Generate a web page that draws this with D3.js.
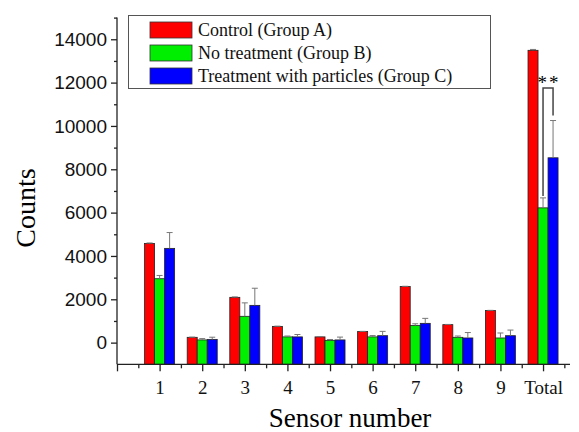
<!DOCTYPE html>
<html>
<head>
<meta charset="utf-8">
<script src="https://cdn.jsdelivr.net/npm/d3@7/dist/d3.min.js"></script>
<style>
  body { margin: 0; background: #fff; }
  svg { display: block; }
</style>
</head>
<body>
<div id="chart"></div>
<script>
// chart values
var categories = ["1", "2", "3", "4", "5", "6", "7", "8", "9", "Total"];
var groupNames = ["Control (Group A)", "No treatment (Group B)", "Treatment with particles (Group C)"];
var controlA   = [4580, 245, 2090, 750, 265, 510, 2590, 830, 1480, 13490];
var noTreatB   = [2950, 125, 1215, 265, 105, 265, 790, 245, 215, 6220];
var particlesC = [4350, 150, 1720, 265, 125, 320, 890, 215, 320, 8530];
var errA = [20, 10, 20, 10, 10, 10, 10, 10, 10, 40];
var errB = [150, 60, 620, 40, 40, 60, 80, 60, 230, 460];
var errC = [730, 100, 790, 110, 130, 200, 230, 250, 260, 1720];
var yMajor = [0, 2000, 4000, 6000, 8000, 10000, 12000, 14000];
var yMinor = [1000, 3000, 5000, 7000, 9000, 11000, 13000, 15000];

var colors = ["#ff0000", "#00ee00", "#0000ff"];
var series = [controlA, noTreatB, particlesC];
var errs = [errA, errB, errC];

var svg = d3.select('#chart').append('svg')
    .attr('width', 579)
    .attr('height', 432);

// x: category index (1..10), 0 at the y axis
var x = d3.scaleLinear().domain([0, 10.6]).range([117, 568.6]);
var y = d3.scaleLinear().domain([-1000, 15000]).range([364.3, 17.6]);
var barW = x(0.235) - x(0);

// bars
series.forEach(function(vals, s) {
    var g = svg.append('g');
    g.selectAll('rect').data(vals).enter().append('rect')
        .attr('x', function(d, i) { return x(i + 1) + (s - 1.5) * barW; })
        .attr('y', function(d) { return y(d); })
        .attr('width', barW)
        .attr('height', function(d) { return y(-1000) - y(d); })
        .attr('fill', colors[s])
        .attr('stroke', '#222')
        .attr('stroke-width', 0.8);

    // upper error bars
    var e = svg.append('g').attr('stroke', '#777').attr('stroke-width', 1);
    vals.forEach(function(d, i) {
        var cx = x(i + 1) + (s - 1) * barW;
        var top = y(d + errs[s][i]);
        e.append('line').attr('x1', cx).attr('x2', cx).attr('y1', y(d)).attr('y2', top);
        e.append('line').attr('x1', cx - 3).attr('x2', cx + 3).attr('y1', top).attr('y2', top);
    });
});

// significance bracket between group B and C on Total
var ti = categories.length - 1;
var bx = x(ti + 1), cxr = x(ti + 1) + barW;
var bTop = y(11750);
svg.append('path')
    .attr('d', 'M' + bx + ',' + (y(noTreatB[ti] + errB[ti]) - 2) +
               'V' + bTop + 'H' + cxr + 'V' + (y(particlesC[ti] + errC[ti]) - 5))
    .attr('fill', 'none')
    .attr('stroke', '#444')
    .attr('stroke-width', 1.5);
svg.append('text')
    .attr('x', (bx + cxr) / 2 + 1)
    .attr('y', bTop + 1)
    .attr('text-anchor', 'middle')
    .attr('font-family', 'Liberation Serif')
    .attr('font-size', 19)
    .attr('letter-spacing', 2)
    .text('**');

// y axis
svg.append('g')
    .attr('transform', 'translate(117,0)')
    .call(d3.axisLeft(y).tickValues(yMinor).tickSize(3).tickFormat(''))
    .call(function(g) { g.select('.domain').remove(); });
var yAx = svg.append('g')
    .attr('transform', 'translate(117,0)')
    .call(d3.axisLeft(y).tickValues(yMajor).tickSize(6).tickPadding(4).tickFormat(d3.format('d')));
yAx.select('.domain').attr('d', 'M0,' + y(-1000) + 'V' + y(15000));
yAx.selectAll('text')
    .attr('font-family', 'Liberation Sans')
    .attr('font-size', 19)
    .attr('fill', '#111');

// x axis
var xMinor = d3.range(0.5, 10.6, 1);
svg.append('g')
    .attr('transform', 'translate(0,' + y(-1000) + ')')
    .call(d3.axisBottom(x).tickValues(xMinor).tickSize(4).tickFormat(''))
    .call(function(g) { g.select('.domain').remove(); });
var xAx = svg.append('g')
    .attr('transform', 'translate(0,' + y(-1000) + ')')
    .call(d3.axisBottom(x).tickValues(d3.range(0, 11)).tickSize(7).tickPadding(9)
        .tickFormat(function(d) { return d === 0 ? '' : categories[d - 1]; }));
xAx.select('.domain').attr('d', 'M117,0H570');
xAx.selectAll('text')
    .attr('font-family', 'Liberation Serif')
    .attr('font-size', 19)
    .attr('fill', '#111');

svg.selectAll('.domain, .tick line').attr('stroke', '#222').attr('stroke-width', 1.3);

// axis titles
svg.append('text')
    .attr('transform', 'translate(35,208) rotate(-90)')
    .attr('text-anchor', 'middle')
    .attr('font-family', 'Liberation Serif')
    .attr('font-size', 28)
    .text('Counts');
svg.append('text')
    .attr('x', 350)
    .attr('y', 427)
    .attr('text-anchor', 'middle')
    .attr('font-family', 'Liberation Serif')
    .attr('font-size', 27)
    .text('Sensor number');

// legend
var leg = svg.append('g');
leg.append('rect')
    .attr('x', 128.5).attr('y', 15.5)
    .attr('width', 362).attr('height', 73)
    .attr('fill', '#fff')
    .attr('stroke', '#555')
    .attr('stroke-width', 1);
groupNames.forEach(function(name, s) {
    leg.append('rect')
        .attr('x', 150).attr('y', 22 + s * 23)
        .attr('width', 42).attr('height', 16)
        .attr('fill', colors[s])
        .attr('stroke', '#333')
        .attr('stroke-width', 0.8);
    leg.append('text')
        .attr('x', 198).attr('y', 36 + s * 23)
        .attr('font-family', 'Liberation Serif')
        .attr('font-size', 18)
        .attr('fill', '#111')
        .text(name);
});
</script>
</body>
</html>
